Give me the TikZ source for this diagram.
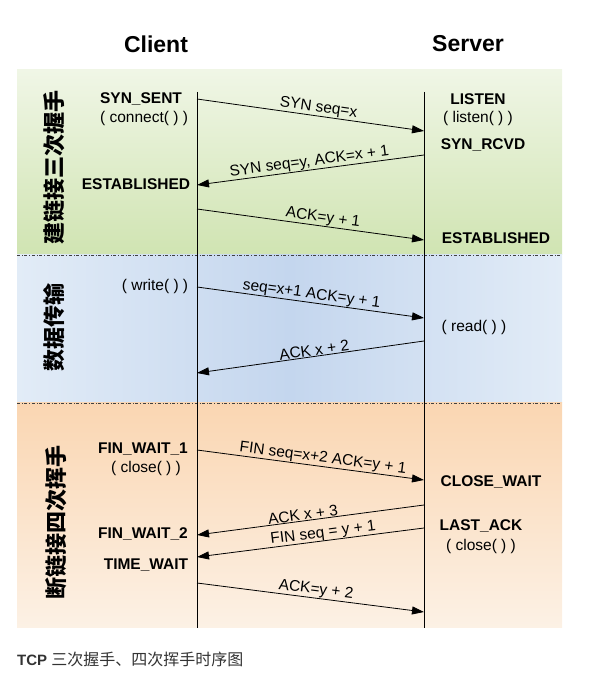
\documentclass[tikz,border=0pt]{standalone}
\usepackage{fontspec}
\setmainfont{Liberation Sans}
\newfontfamily\cjk{Noto Sans CJK SC}
\usetikzlibrary{arrows.meta}
\definecolor{greentop}{RGB}{240,246,230}
\definecolor{greenbot}{RGB}{208,228,178}
\definecolor{blueside}{RGB}{226,236,247}
\definecolor{bluemid}{RGB}{196,214,238}
\definecolor{orangetop}{RGB}{250,214,178}
\definecolor{orangebot}{RGB}{252,241,229}
\definecolor{captiongray}{RGB}{51,51,51}
\tikzset{
  state/.style={font=\fontsize{15.5}{17}\selectfont\bfseries, inner sep=1pt},
  call/.style={font=\fontsize{15.5}{17}\selectfont, inner sep=1pt},
  msg/.style={-{Triangle[length=12pt,width=8pt]}, thick},
  msglabel/.style={font=\fontsize{15.5}{17}\selectfont, sloped, above, inner sep=0.5pt},
  phase/.style={font=\cjk\bfseries\fontsize{22}{24}\selectfont, rotate=90},
  sep/.style={dash dot, black!75, thick}
}
\begin{document}
\begin{tikzpicture}[x=1pt,y=1pt]
\useasboundingbox (0,0) rectangle (602,685);
\shade [top color=greentop,bottom color=greenbot] (17,615) rectangle (562,430);
\shade [left color=blueside,right color=blueside,middle color=bluemid] (17,430) rectangle (562,282);
\shade [top color=orangetop,bottom color=orangebot] (17,282) rectangle (562,57);
\draw [sep] (17,430) -- (562,430);
\draw [sep] (17,282) -- (562,282);

\node [font=\fontsize{23}{25}\selectfont\bfseries] (client) at (156,641) {Client};
\node [font=\fontsize{23}{25}\selectfont\bfseries] (server) at (468,641) {Server};

\coordinate (ctop) at (197,593);
\coordinate (cbot) at (197,57);
\coordinate (stop) at (424,593);
\coordinate (sbot) at (424,57);
\draw [thick] (ctop) -- (cbot);
\draw [thick] (stop) -- (sbot);

\node [phase] (p1) at (54,517) {建链接三次握手};
\node [phase] (p2) at (54,357) {数据传输};
\node [phase] (p3) at (56,162) {断链接四次挥手};

\node [state] (synsent) at (141,586) {SYN\_SENT};
\node [call] (connect) at (144,567) {( connect( ) )};
\node [state] (cest) at (136,501) {ESTABLISHED};
\node [call] (write) at (155,399) {( write( ) )};
\node [state] (fw1) at (143,236) {FIN\_WAIT\_1};
\node [call] (cclose) at (146,217) {( close( ) )};
\node [state] (fw2) at (143,151) {FIN\_WAIT\_2};
\node [state] (tw) at (146,120) {TIME\_WAIT};

\node [state] (listen) at (478,586) {LISTEN};
\node [call] (listencall) at (478,567) {( listen( ) )};
\node [state] (synrcvd) at (483,540) {SYN\_RCVD};
\node [state] (sest) at (496,447) {ESTABLISHED};
\node [call] (read) at (474,358) {( read( ) )};
\node [state] (cw) at (491,203) {CLOSE\_WAIT};
\node [state] (lastack) at (481,159) {LAST\_ACK};
\node [call] (sclose) at (481,139) {( close( ) )};

\coordinate (c1) at (197,586); \coordinate (s1) at (424,554);
\coordinate (s2) at (424,530); \coordinate (c2) at (197,500);
\coordinate (c3) at (197,476); \coordinate (s3) at (424,445);
\coordinate (c4) at (197,398); \coordinate (s4) at (424,367);
\coordinate (s5) at (424,344); \coordinate (c5) at (197,312);
\coordinate (c6) at (197,235); \coordinate (s6) at (424,205);
\coordinate (s7) at (424,180); \coordinate (c7) at (197,150);
\coordinate (s8) at (424,157); \coordinate (c8) at (197,128);
\coordinate (c9) at (197,102); \coordinate (s9) at (424,73);

\draw [msg] (c1) -- node [msglabel,pos=0.53] {SYN seq=x} (s1);
\draw [msg] (s2) -- node [msglabel,pos=0.50] {SYN seq=y, ACK=x + 1} (c2);
\draw [msg] (c3) -- node [msglabel,pos=0.55] {ACK=y + 1} (s3);
\draw [msg] (c4) -- node [msglabel,pos=0.50] {seq=x+1 ACK=y + 1} (s4);
\draw [msg] (s5) -- node [msglabel,pos=0.48] {ACK x + 2} (c5);
\draw [msg] (c6) -- node [msglabel,pos=0.55] {FIN seq=x+2 ACK=y + 1} (s6);
\draw [msg] (s7) -- node [msglabel,pos=0.53] {ACK x + 3} (c7);
\draw [msg] (s8) -- node [msglabel,pos=0.44,inner sep=0pt] {FIN seq = y + 1} (c8);
\draw [msg] (c9) -- node [msglabel,pos=0.52] {ACK=y + 2} (s9);

\node [anchor=west, inner sep=0pt, text=captiongray] (caption) at (17,26)
  {\fontsize{15}{17}\selectfont\bfseries TCP \cjk\mdseries\fontsize{16}{18}\selectfont 三次握手、四次挥手时序图};
\end{tikzpicture}
\end{document}
